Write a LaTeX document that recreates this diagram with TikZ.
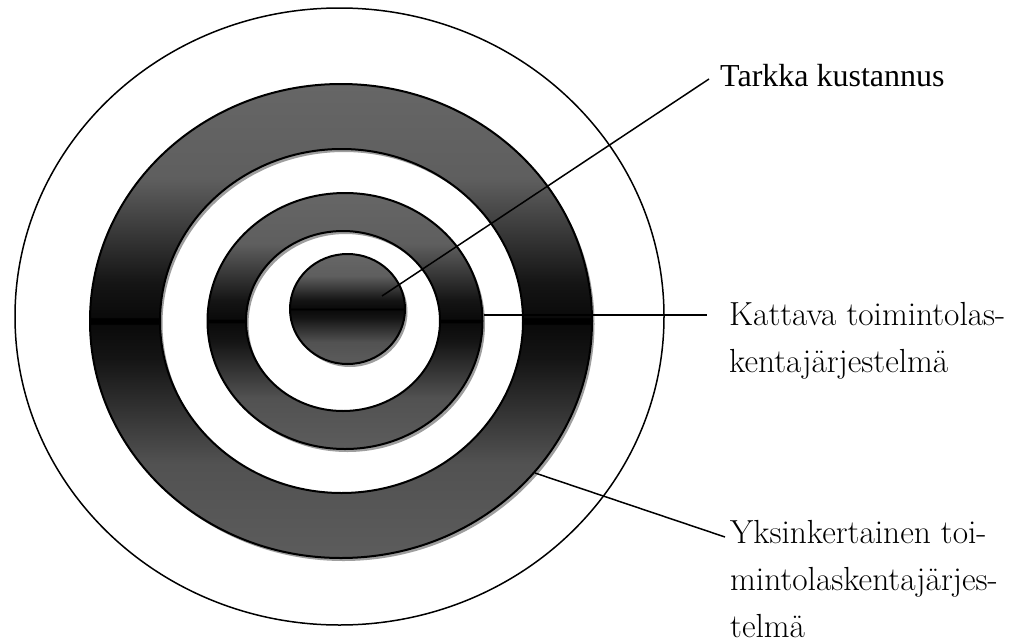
\documentclass[tikz,border=0pt]{standalone}
\usepackage{fontspec}
\newfontfamily\timesf{Liberation Serif}
\definecolor{sgA}{gray}{0.40}
\definecolor{sgF}{gray}{0.37}
\definecolor{sgD}{gray}{0.08}
\definecolor{sgE}{gray}{0.04}
\definecolor{sgC}{gray}{0.32}
\definecolor{sgB}{gray}{0.36}
\definecolor{shadowgray}{gray}{0.62}
\pgfdeclareverticalshading{glossy}{100bp}{color(0bp)=(sgB); color(25bp)=(sgB); color(35bp)=(sgC); color(46bp)=(sgD); color(49.6bp)=(sgE); color(49.7bp)=(black); color(50.3bp)=(black); color(50.4bp)=(sgE); color(54bp)=(sgD); color(65bp)=(sgF); color(75bp)=(sgA); color(100bp)=(sgA)}
\tikzset{
  ringshadow/.style={fill=shadowgray, even odd rule},
  ringface/.style={shading=glossy, draw=black, line width=2pt, even odd rule},
  lbl/.style={inner ysep=0pt, anchor=base west, font=\addfontfeatures{FakeBold=0.3}\fontsize{33.4}{47}\selectfont},
  leader/.style={line width=1.5pt},
  outerring/.style={draw=black, line width=1.5pt, fill=white}
}
\begin{document}
\begin{tikzpicture}[x=1pt,y=-1pt]
\fill[white] (0,0) rectangle (1034,643);
\useasboundingbox (0,0) rectangle (1034,643);
% outer ellipse
\path[outerring] (339.5,316.5) ellipse [x radius=324.5, y radius=308.5];
% shadows
\begin{scope}[shift={(2.5,3)}]
\path[ringshadow] (341,321) ellipse [x radius=251, y radius=237] (341.5,321) ellipse [x radius=181.5, y radius=172];
\path[ringshadow] (345,321) ellipse [x radius=137.5, y radius=128] (343,321) ellipse [x radius=97, y radius=90];
\path[ringshadow] (347.5,309) ellipse [x radius=57.5, y radius=55];
\end{scope}
% rings
\shadedraw[ringface] (341,321) ellipse [x radius=251, y radius=237] (341.5,321) ellipse [x radius=181.5, y radius=172];
\shadedraw[ringface] (345,321) ellipse [x radius=137.5, y radius=128] (343,321) ellipse [x radius=97, y radius=90];
\shadedraw[ringface] (347.5,309) ellipse [x radius=57.5, y radius=55];
% labels
\node[anchor=base west, inner ysep=0pt, inner xsep=11pt, font=\timesf\fontsize{32}{38}\selectfont] (t1) at (709,86) {Tarkka kustannus};
\node[lbl, inner xsep=22pt] (t2) at (707,325) {\begin{tabular}[t]{@{}l@{}}Kattava toimintolas-\\kentajärjestelmä\end{tabular}};
\node[lbl, inner xsep=5pt] (t3) at (725,543) {\begin{tabular}[t]{@{}l@{}}Yksinkertainen toi-\\mintolaskentajärjes-\\telmä\end{tabular}};
% connector start points
\coordinate (p1) at (382,296);
\coordinate (p2) at (484,315);
\coordinate (p3) at (535,473);
\draw[leader] (p1) -- ([yshift=7pt]t1.base west);
\draw[leader] (p2) -- ([yshift=10pt]t2.base west);
\draw[leader] (p3) -- ([yshift=6pt]t3.base west);
\end{tikzpicture}
\end{document}
